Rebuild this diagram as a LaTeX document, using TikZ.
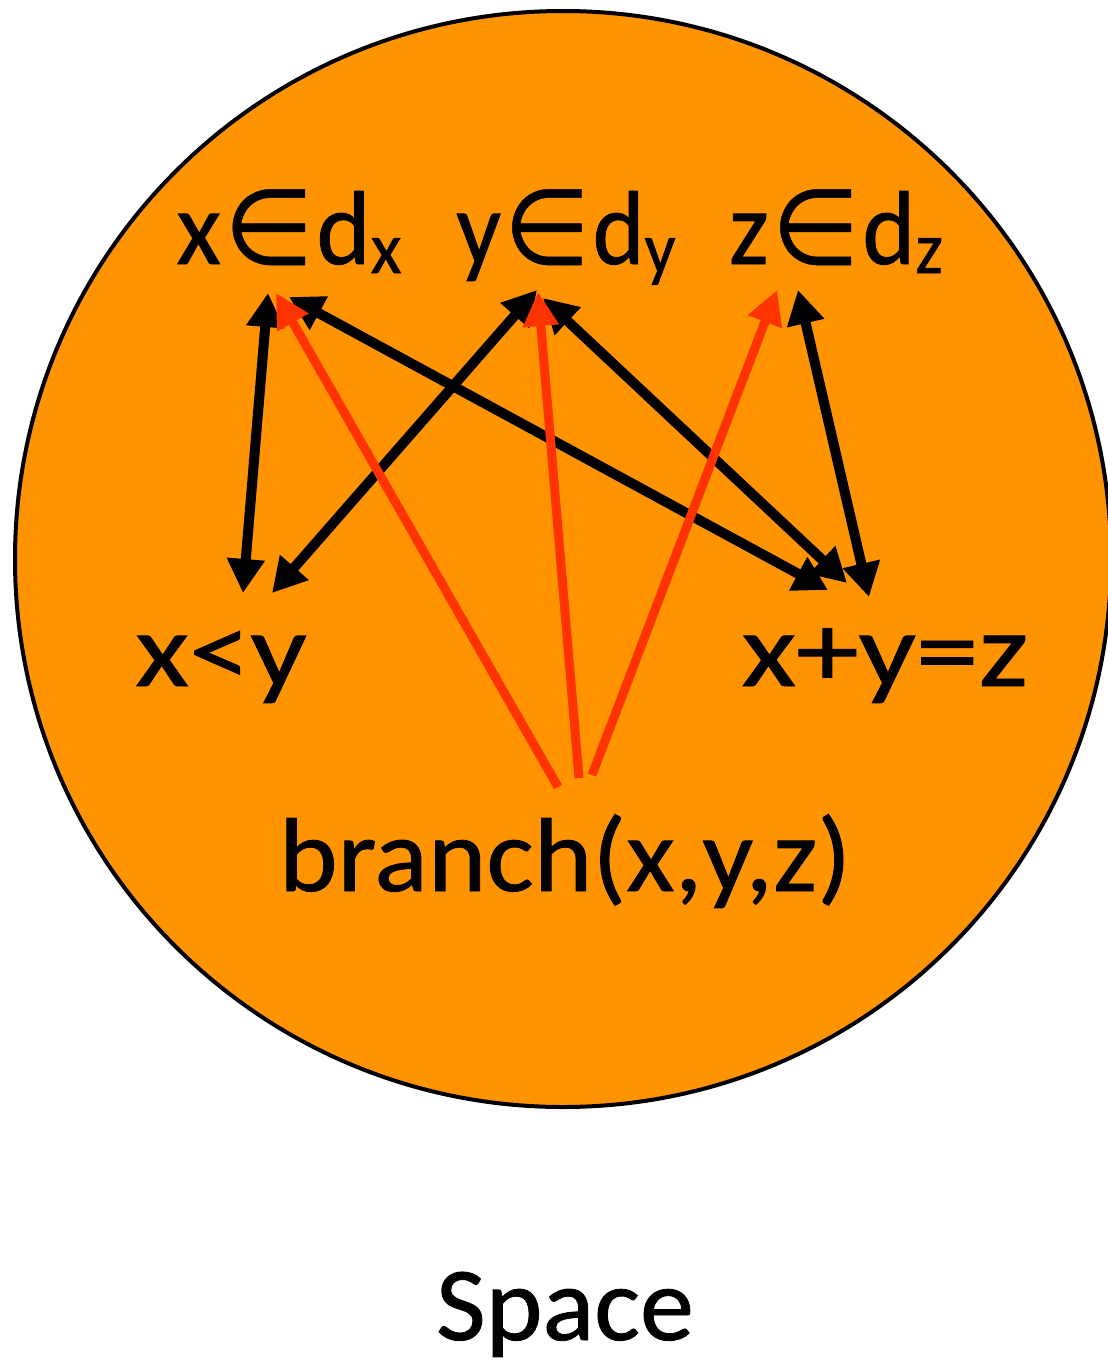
\documentclass[tikz,border=0pt]{standalone}
\usepackage{fontspec}
\newfontfamily\gill{Carlito}[FakeBold=0.8]
\newfontfamily\symfont{DejaVu Sans}[FakeBold=0.5]
\usetikzlibrary{arrows.meta,calc}
\definecolor{circfill}{RGB}{255,147,0}
\definecolor{redarr}{RGB}{255,51,0}
\newcommand{\elem}{\hspace{3pt}{\symfont ∈}\hspace{3pt}}
\newcommand{\sbs}[1]{\raisebox{-9pt}{\fontsize{73}{73}\selectfont #1}}
\begin{document}
\begin{tikzpicture}[x=1pt,y=-1pt,
  lbl/.style={font=\gill\fontsize{105}{110}\selectfont, inner sep=0pt, anchor=base},
  blk/.style={draw=black, line width=10pt, {Triangle[length=34pt,width=36pt]}-{Triangle[length=34pt,width=36pt]}},
  redl/.style={draw=redarr, line width=9pt, -{Triangle[length=34pt,width=34pt]}}]
\useasboundingbox (0,0) rectangle (1108,1366);
\node[circle, draw=black, fill=circfill, line width=4pt, minimum size=1096pt, inner sep=0pt] (sp) at (563,559) {};
% labels
\node[lbl] (xd) at (289,264) {\scalebox{0.98}[1]{x\elem d\sbs{x}}};
\node[lbl] (yd) at (566,264) {\scalebox{0.94}[1]{y\elem d\sbs{y}}};
\node[lbl] (zd) at (836,264) {\scalebox{0.96}[1]{z\elem d\sbs{z}}};
\node[lbl] (lt) at (221,686) {\scalebox{1.18}[1]{x<y}};
\node[lbl] (sum) at (885,686) {\scalebox{1.2}[1]{x+y=z}};
\node[lbl] (br) at (565,891) {\scalebox{1.064}[1]{branch(x,y,z)}};
\node[lbl] (title) at (565,1340) {\scalebox{1.03}[1]{Space}};
% endpoints
\coordinate (xd-a) at (268,293);
\coordinate (xd-b) at (289,297);
\coordinate (xd-r) at (276,293);
\coordinate (yd-a) at (537,290);
\coordinate (yd-b) at (543,298);
\coordinate (yd-r) at (538,292);
\coordinate (zd-a) at (798,290);
\coordinate (zd-r) at (777,290);
\coordinate (lt-a) at (243,593);
\coordinate (lt-b) at (272,593);
\coordinate (sum-a) at (828,590);
\coordinate (sum-b) at (847,583);
\coordinate (sum-c) at (869,597);
\coordinate (br-a) at (558,787);
\coordinate (br-b) at (579,778);
\coordinate (br-c) at (592,775);
% black connectors
\draw[blk] (xd-a) -- (lt-a);
\draw[blk] (yd-a) -- (lt-b);
\draw[blk] (xd-b) -- (sum-a);
\draw[blk] (yd-b) -- (sum-b);
\draw[blk] (zd-a) -- (sum-c);
% red connectors
\draw[redl] (br-a) -- (xd-r);
\draw[redl] (br-b) -- (yd-r);
\draw[redl] (br-c) -- (zd-r);
\end{tikzpicture}
\end{document}
